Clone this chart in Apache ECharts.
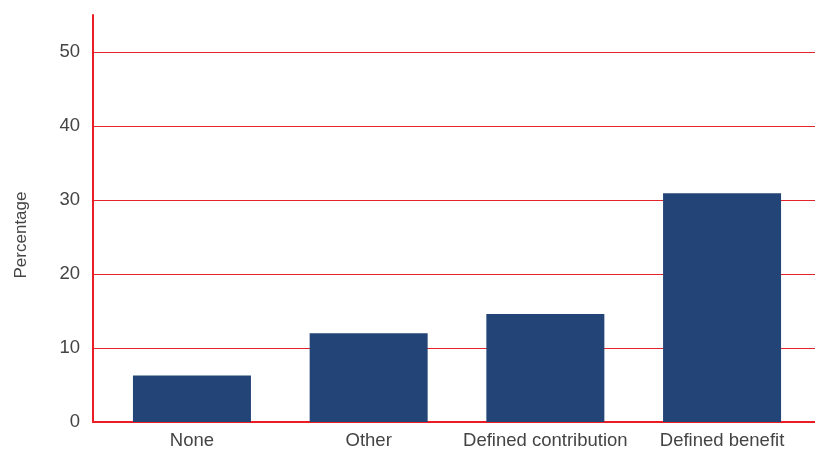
<!DOCTYPE html>
<html><head><meta charset="utf-8">
<script src="https://cdn.jsdelivr.net/npm/echarts@6/dist/echarts.min.js"></script>
<style>html,body{margin:0;padding:0;background:#fff}#c{width:815px;height:450px}</style>
</head><body><div id="c"></div>
<script>
var categories = ['None', 'Other', 'Defined contribution', 'Defined benefit'];
var values = [6.3, 12.0, 14.6, 30.9];
var yTicks = [0, 10, 20, 30, 40, 50];
var yName = 'Percentage';

var chart = echarts.init(document.getElementById('c'));
var font = '"Liberation Sans", Arial, sans-serif';
chart.setOption({
  animation: false,
  grid: {left: 93, right: 0, top: 15, bottom: 28, containLabel: false},
  xAxis: {
    type: 'value', min: -0.56, max: 3.526,
    axisLine: {show: true, onZero: false, lineStyle: {color: '#ec1c24', width: 2}},
    axisTick: {show: false},
    splitLine: {show: false},
    axisLabel: {
      customValues: [0, 1, 2, 3],
      formatter: function (v) { return categories[Math.round(v)]; },
      color: '#444', fontSize: 18.5, fontFamily: font, margin: 9
    }
  },
  yAxis: {
    type: 'value', min: 0, max: 55, interval: 10,
    axisLine: {show: true, onZero: false, lineStyle: {color: '#ec1c24', width: 2}},
    axisTick: {show: false},
    splitLine: {show: true, showMaxLine: false, showMinLine: false, lineStyle: {color: '#e5232b', width: 1}},
    axisLabel: {
      color: '#444', fontSize: 18.5, fontFamily: font, margin: 13, showMaxLabel: false,
      formatter: function (v) { return yTicks.indexOf(v) >= 0 ? String(v) : ''; }
    }
  },
  graphic: [{
    type: 'text', x: 21, y: 235, rotation: Math.PI / 2, origin: [0, 0],
    style: {text: yName, fill: '#444', font: '17px ' + font, align: 'center', verticalAlign: 'middle'}
  }],
  series: [{
    type: 'bar', barWidth: 118,
    itemStyle: {color: '#234476'},
    data: values.map(function (v, i) { return [i, v]; })
  }]
});
</script></body></html>
